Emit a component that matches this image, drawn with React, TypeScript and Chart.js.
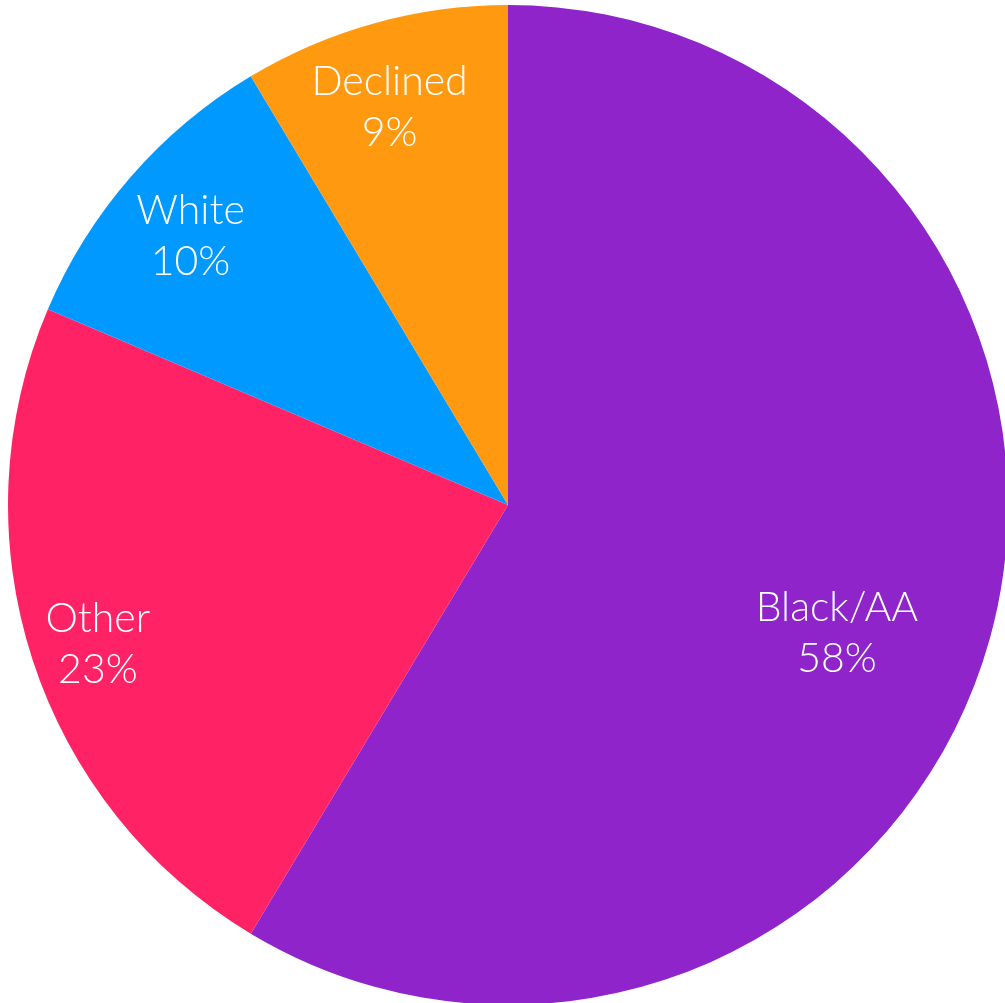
import React, { useEffect, useRef } from "react";
import { Chart, registerables } from "chart.js";

Chart.register(...registerables);

const categories = ["Black/AA", "Other", "White", "Declined"];
const shares = [58.6, 22.8, 10.0, 8.6];
const pctLabels = ["58%", "23%", "10%", "9%"];
const colors = ["#8E24C9", "#FF2366", "#0099FF", "#FF9A10"];

// label placement: fraction of radius and angular nudge (degrees) from slice mid-angle
const labelRadius = [0.706, 0.866, 0.832, 0.83];
const labelAngleShift = [5.8, -0.7, -0.8, -1.1];

const labelPlugin = {
  id: "sliceLabels",
  afterDatasetsDraw(chart: any) {
    const ctx = chart.ctx;
    const meta = chart.getDatasetMeta(0);
    ctx.save();
    ctx.fillStyle = "#ffffff";
    ctx.textAlign = "center";
    ctx.textBaseline = "middle";
    ctx.font = "300 41px Lato";
    meta.data.forEach((arc: any, i: number) => {
      const p = arc.getProps(["x", "y", "startAngle", "endAngle", "outerRadius"], true);
      const mid = (p.startAngle + p.endAngle) / 2 + (labelAngleShift[i] * Math.PI) / 180;
      const r = p.outerRadius * labelRadius[i];
      const cx = p.x + Math.cos(mid) * r;
      const cy = p.y + Math.sin(mid) * r;
      ctx.fillText(categories[i], cx, cy - 25);
      ctx.fillText(pctLabels[i], cx, cy + 26);
    });
    ctx.restore();
  },
};

export default function App() {
  const ref = useRef<HTMLCanvasElement>(null);
  useEffect(() => {
    if (!ref.current) return;
    const chart = new Chart(ref.current, {
      type: "pie",
      data: {
        labels: categories,
        datasets: [
          {
            data: shares,
            backgroundColor: colors,
            borderWidth: 0,
          },
        ],
      },
      options: {
        animation: false,
        responsive: false,
        maintainAspectRatio: false,
        layout: { padding: 0 },
        plugins: {
          legend: { display: false },
          tooltip: { enabled: false },
        },
      },
      plugins: [labelPlugin],
    });
    return () => chart.destroy();
  }, []);
  return (
    <div
      style={{
        position: "fixed",
        left: 0,
        top: 0,
        width: 1005,
        height: 1003,
        overflow: "hidden",
        background: "#ffffff",
      }}
    >
      <canvas
        ref={ref}
        width={1000}
        height={1000}
        style={{ position: "absolute", left: 8, top: 5, width: 1000, height: 1000 }}
      />
    </div>
  );
}
